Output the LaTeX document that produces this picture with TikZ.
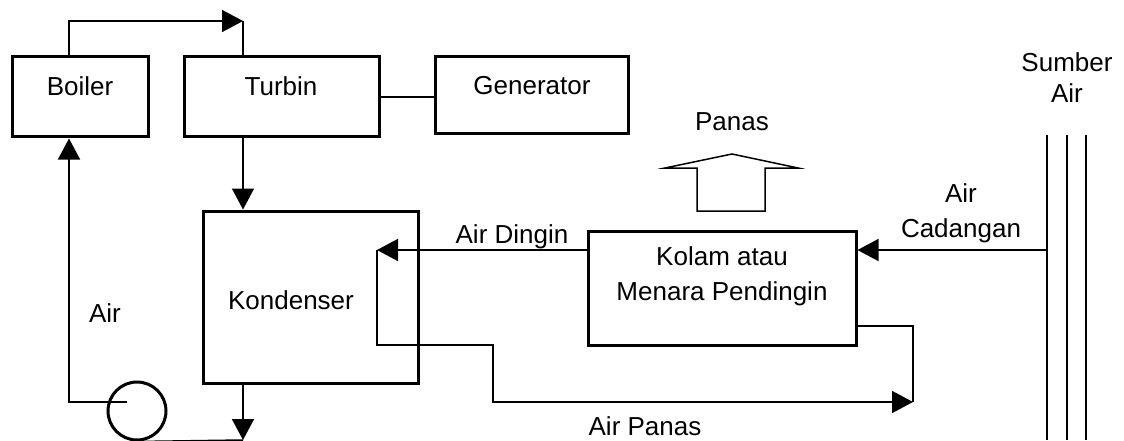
\documentclass[tikz,border=0pt]{standalone}
\usepackage{fontspec}
\setmainfont{Liberation Sans}
\usetikzlibrary{arrows.meta}
\tikzset{
  unit/.style={draw, line width=3pt, inner sep=0pt},
  pipe/.style={line width=1.5pt},
  tip/.style={-{Triangle[length=21pt,width=22pt]}},
  lbl/.style={inner sep=0pt, font=\fontsize{26}{31}\selectfont, align=center}
}
\begin{document}
\begin{tikzpicture}[x=1pt,y=-1pt]
  \useasboundingbox (0,0) rectangle (1124,441);
  \node[unit, minimum width=136pt, minimum height=80pt] (boiler) at (80,97) {};
  \node[unit, minimum width=195pt, minimum height=80pt] (turbin) at (281.5,97) {};
  \node[unit, minimum width=193pt, minimum height=77pt] (generator) at (531.5,95.5) {};
  \node[unit, minimum width=215pt, minimum height=172pt] (kondenser) at (310.5,297) {};
  \node[unit, minimum width=268pt, minimum height=114pt] (kolam) at (722,288) {};
  \node[circle, draw, line width=3pt, minimum size=58pt, inner sep=0pt] (pump) at (137,411) {};
  \node[lbl] (boilertxt) at (80,86) {Boiler};
  \node[lbl] (turbintxt) at (281,86) {Turbin};
  \node[lbl] (generatortxt) at (532,86) {Generator};
  \node[lbl] (kondensertxt) at (291,300) {Kondenser};
  \node[lbl] (kolamtxt) at (722,276) {Kolam atau\\[4pt]Menara Pendingin};
  \node[lbl] (airtxt) at (105,313) {Air};
  \node[lbl] (dingintxt) at (512,237) {Air Dingin};
  \node[lbl] (panastxt) at (645,426) {Air Panas};
  \node[lbl] (heattxt) at (732,122) {Panas};
  \node[lbl] (cadangantxt) at (961,213) {Air\\[4pt]Cadangan};
  \node[lbl] (sumbertxt) at (1067,78) {Sumber\\Air};
  \coordinate (top) at (243,21);
  \coordinate (bot) at (243,440);
  \coordinate (ret) at (69,402);
  \coordinate (dingin) at (377,250);
  \coordinate (panas) at (913,402);
  \coordinate (src) at (1047,250);
  \draw[pipe, tip] (ret |- boiler.north) -- (ret |- top) -- (top);
  \draw[pipe] (top) -- (top |- turbin.north);
  \draw[pipe] (turbin.east) -- (generator.west |- turbin.east);
  \draw[pipe, tip] (top |- turbin.south) -- (top |- kondenser.north);
  \draw[pipe, tip] (top |- kondenser.south) -- (bot);
  \draw[pipe] (bot) -- (pump.south);
  \draw[pipe, tip] ([xshift=-10pt,yshift=9pt]pump.center) -- (ret) -- (ret |- boiler.south);
  \draw[pipe, tip] (kolam.west |- dingin) -- (dingin);
  \draw[pipe, tip] (dingin) -- (377,345) -- (493,345) -- (493,402) -- (panas);
  \draw[pipe] (panas) -- (913,326) -- (kolam.east |- 0,326);
  \draw[pipe, tip] (src) -- (kolam.east |- src);
  \foreach \x in {1047,1067,1086}
    \draw[pipe] (\x,135) -- (\x,440);
  \draw[pipe, line join=miter] (697,211) -- (697,168) -- (665,168) -- (732,154)
    -- (798,168) -- (765,168) -- (765,211) -- cycle;
\end{tikzpicture}
\end{document}
